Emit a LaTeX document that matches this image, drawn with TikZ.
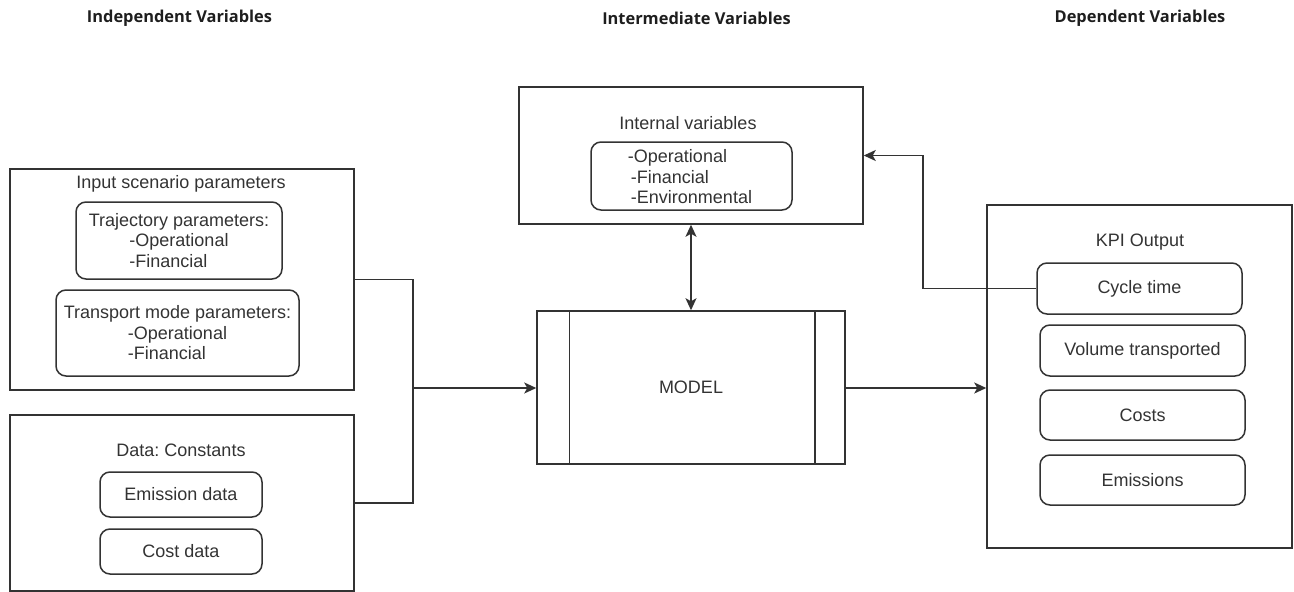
\documentclass[tikz,border=0pt]{standalone}
\usepackage{fontspec}
\setmainfont{Liberation Sans}
\newfontfamily\headfont{Open Sans}
\usepackage{calc}
\usetikzlibrary{arrows.meta}
\frenchspacing

\definecolor{ink}{HTML}{333333}
\definecolor{headink}{HTML}{1E1E1E}

% keep a left-aligned bullet line as wide as "-Operational"
\newcommand{\padline}[1]{\makebox[\widthof{-Operational}][l]{#1}}

\tikzset{
  body/.style={font=\fontsize{18}{20.5}\selectfont, text=ink},
  frame/.style={draw=ink, line width=1.5pt, inner sep=0pt, body, align=center},
  item/.style={frame, rounded corners=10pt},
  caption/.style={body, inner sep=0pt, align=center},
  head/.style={font=\headfont\bfseries\fontsize{16.4}{19}\selectfont, text=headink, inner sep=0pt},
  wire/.style={draw=ink, line width=1.5pt},
  tip/.tip={Stealth[length=12pt,width=11pt,inset=3pt]},
  arr/.style={wire, -tip},
  dbl/.style={wire, tip-tip},
}

\begin{document}
\begin{tikzpicture}[x=1pt,y=-1pt]
\useasboundingbox (0,0) rectangle (1294,592);

% column headings
\node[head] (hInd) at (179.5,18) {Independent Variables};
\node[head] (hMid) at (696.5,18) {Intermediate Variables};
\node[head] (hDep) at (1140,18) {Dependent Variables};

% ---- independent variables ----
\node[frame, minimum width=344pt, minimum height=221pt] (input) at (182,279.5) {};
\node[caption] (inputT) at (181,184) {Input scenario parameters};
\node[item, minimum width=206pt, minimum height=77pt] (traj) at (179,240.5)
  {Trajectory parameters:\\ \padline{-Operational}\\ \padline{-Financial}};
\node[item, minimum width=243pt, minimum height=86pt] (mode) at (177.5,333)
  {Transport mode parameters:\\ \padline{-Operational}\\ \padline{-Financial}};

\node[frame, minimum width=344pt, minimum height=176pt] (data) at (182,503) {};
\node[caption] (dataT) at (181,450) {Data: Constants};
\node[item, minimum width=162pt, minimum height=45pt] (emdata) at (181,494.5) {Emission data};
\node[item, minimum width=162pt, minimum height=45pt] (costdata) at (181,551.5) {Cost data};

% ---- intermediate variables ----
\node[frame, minimum width=344pt, minimum height=137pt] (internal) at (691,155.5) {};
\node[caption] (internalT) at (688,123) {Internal variables};
\node[item, minimum width=201pt, minimum height=68pt] (intvars) at (691.5,176) {};
\node[caption, align=left] (intlist) at (690,177) {-Operational\\ \,-Financial\\ \,-Environmental};

\node[frame, minimum width=308pt, minimum height=153pt] (model) at (691,387.5) {MODEL};
\draw[wire] ([xshift=33pt]model.north west) -- ([xshift=33pt]model.south west);
\draw[wire] ([xshift=-31pt]model.north east) -- ([xshift=-31pt]model.south east);

% ---- dependent variables ----
\node[frame, minimum width=305pt, minimum height=343pt] (kpi) at (1139.5,376.5) {};
\node[caption] (kpiT) at (1140,242) {KPI Output};
\node[item, minimum width=205pt, minimum height=51pt] (cycle) at (1139.5,288.5) {Cycle time};
\node[item, minimum width=205pt, minimum height=51pt] (volume) at (1142.5,350.5) {Volume transported};
\node[item, minimum width=205pt, minimum height=50pt] (costs) at (1142.5,415) {Costs};
\node[item, minimum width=205pt, minimum height=50pt] (emis) at (1142.5,480) {Emissions};

% ---- connectors ----
\coordinate (join) at (413,388);
\draw[wire] (input.east) -| (join) |- (data.east);
\draw[arr] (join) -- (join -| model.west);
\draw[arr] (model.east |- join) -- (join -| kpi.west);
\draw[dbl] (internal.south) -- (model.north);
\coordinate (back) at (923,288.5);
\draw[arr] (cycle.west) -- (back) |- (internal.east);
\end{tikzpicture}
\end{document}
